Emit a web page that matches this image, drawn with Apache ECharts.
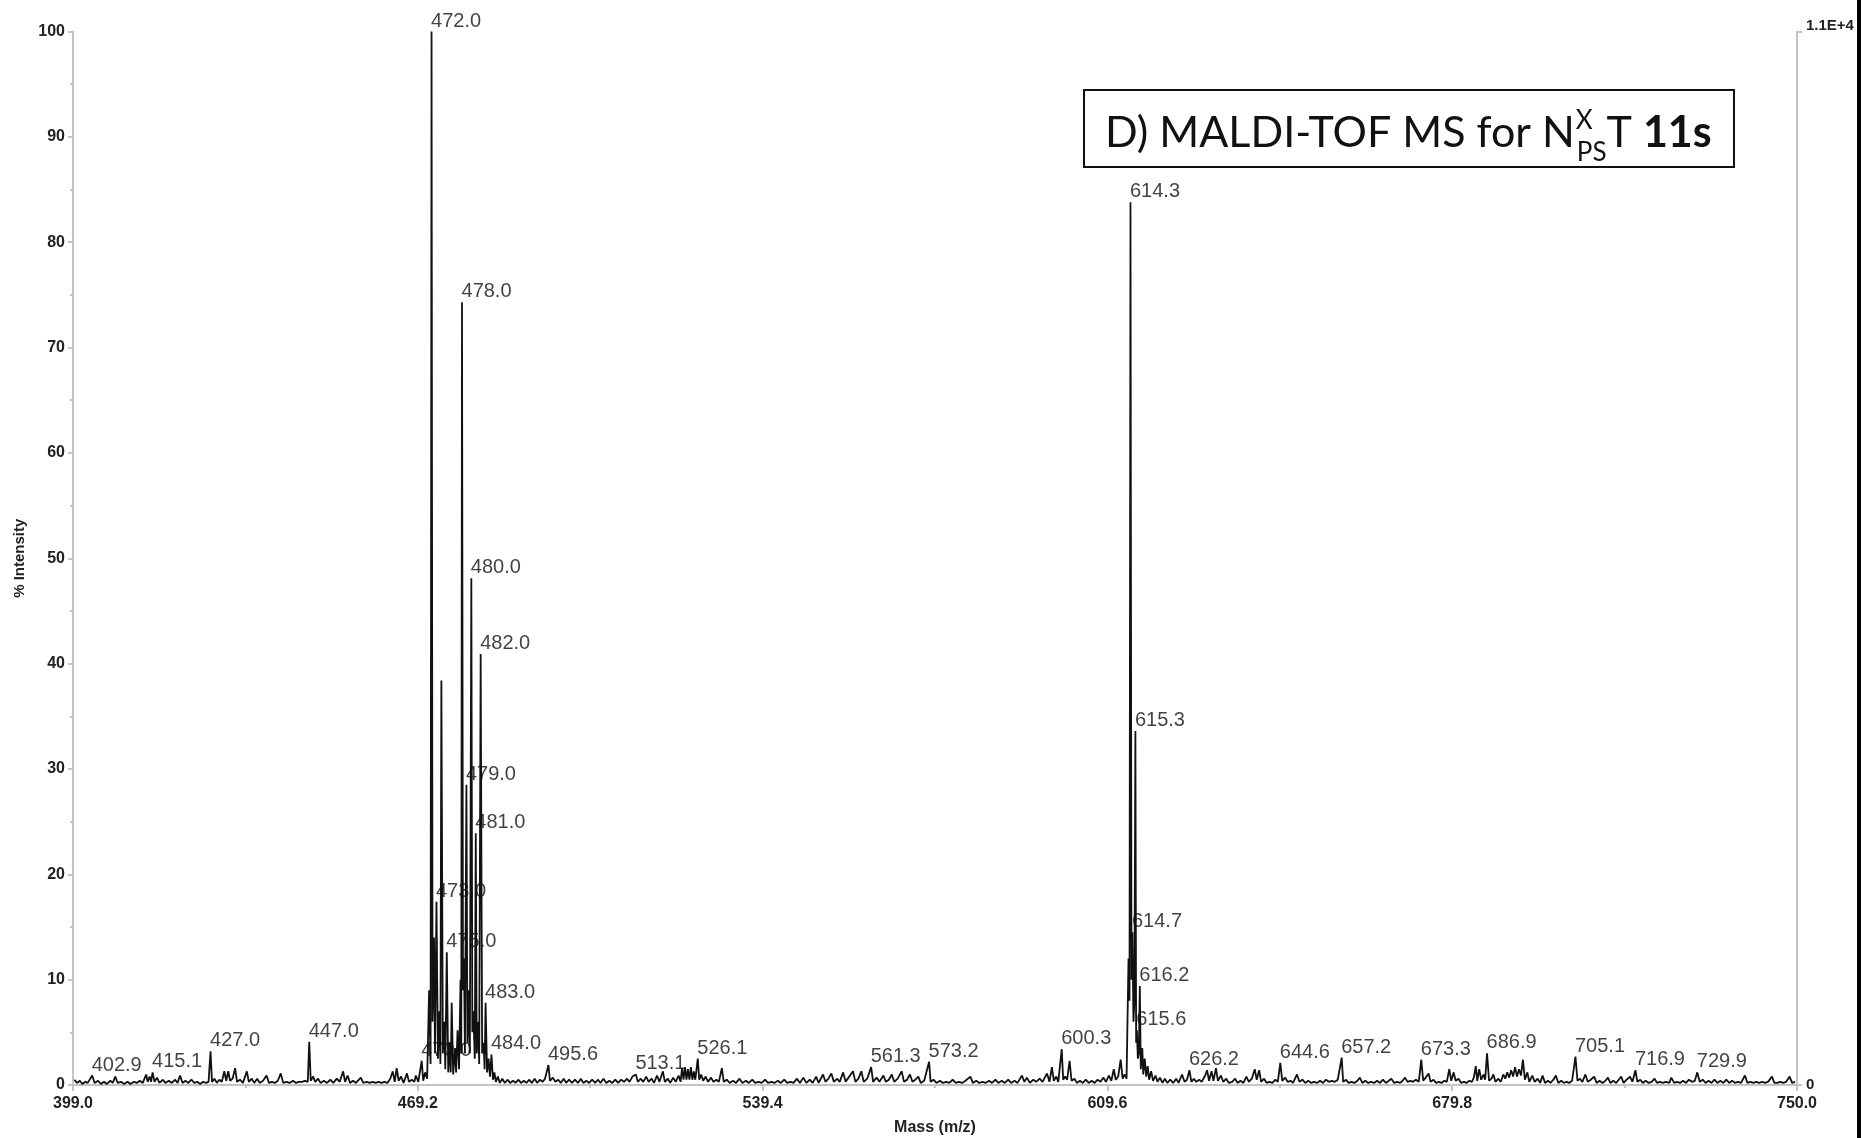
<!DOCTYPE html>
<html lang="en">
<head>
    <meta charset="UTF-8">
    <title>MALDI-TOF MS</title>
    <style>
        html, body { margin: 0; padding: 0; background: #fff; }
        #chart { width: 1861px; height: 1138px; }
    </style>
</head>
<body>
<div id="chart"></div>
<script src="https://cdn.jsdelivr.net/npm/echarts@6/dist/echarts.min.js"></script>
<script>
    // spectrum trace, [mass, % intensity]
    var traceLow = [
        [399.3,0.5],[399.8,0.2],[400.4,0.4],[400.9,0.1],[401.5,0.3],[402.0,0.2],[402.9,0.9],[403.4,0.2],
        [404.1,0.4],[404.7,0.1],[405.3,0.3],[405.9,0.1],[406.6,0.4],[407.1,0.2],[407.6,0.8],[408.1,0.2],
        [408.8,0.3],[409.4,0.1],[410.1,0.3],[410.7,0.1],[411.4,0.3],[412.0,0.2],[412.6,0.4],[413.2,0.2],
        [413.9,1.0],[414.2,0.3],[414.6,0.8],[414.9,0.3],[415.2,1.2],[415.6,0.3],[416.1,0.7],[416.6,0.2],
        [417.3,0.5],[417.8,0.2],[418.5,0.4],[419.1,0.2],[419.8,0.5],[420.3,0.2],[420.8,0.9],[421.3,0.2],
        [421.9,0.4],[422.5,0.2],[423.1,0.5],[423.7,0.2],[424.3,0.3],[424.9,0.1],[425.5,0.3],[426.1,0.2],
        [426.6,0.3],[427.0,3.2],[427.3,0.3],[427.8,0.6],[428.3,0.2],[428.8,0.5],[429.3,0.3],[429.8,1.3],
        [430.2,0.4],[430.6,1.3],[431.0,0.4],[431.5,0.6],[432.0,1.6],[432.4,0.3],[433.0,0.5],[433.6,0.2],
        [434.4,1.3],[434.8,0.3],[435.4,0.6],[435.9,0.2],[436.5,0.6],[437.0,0.2],[437.7,0.4],[438.4,0.9],
        [438.9,0.2],[439.5,0.3],[440.1,0.2],[440.7,0.4],[441.3,1.1],[441.8,0.2],[442.5,0.3],[443.1,0.2],
        [443.8,0.4],[444.4,0.2],[445.0,0.3],[445.6,0.3],[446.2,0.4],[446.8,0.3],[447.1,4.1],[447.4,0.4],
        [447.9,0.8],[448.3,0.3],[448.9,0.6],[449.4,0.2],[450.1,0.4],[450.7,0.2],[451.4,0.5],[452.0,0.2],
        [452.7,0.6],[453.3,0.3],[454.0,1.3],[454.4,0.3],[454.9,0.9],[455.4,0.2],[456.0,0.4],[456.6,0.2],
        [457.2,0.5],[457.6,0.7],[458.1,0.2],[458.8,0.3],[459.4,0.2],[460.0,0.3],[460.6,0.2],[461.2,0.3],
        [461.8,0.2],[462.4,0.3],[463.0,0.2],[463.6,0.6],[464.1,1.3],[464.5,0.3],[464.9,1.6],[465.3,0.4],
        [465.8,0.8],[466.3,0.2],[467.0,1.1],[467.4,0.3],[468.0,0.5],[468.5,0.3],[468.8,0.9],[469.3,0.3]
    ];
    var cluster472 = [
        [470.0,2.3],[470.3,0.4],[470.7,1.2],[471.1,0.6],[471.5,9.0],[471.8,2.0],[472.0,100],[472.2,6],
        [472.5,14],[472.7,3],[473.0,17.4],[473.3,2.5],[473.6,7],[473.8,2],[474.0,38.4],[474.3,3],
        [474.6,6],[474.8,1.5],[475.1,12.6],[475.4,1.2],[475.7,4],[475.9,1.2],[476.1,7.8],[476.4,1.0],
        [476.8,3.5],[477.0,1.2],[477.3,5.2],[477.6,1.5],[477.9,10],[478.05,3],[478.2,74.3],[478.4,9],
        [478.6,12],[478.8,3],[479.1,28.5],[479.3,4],[479.5,9],[479.8,3],[480.1,48.1],[480.3,5],
        [480.5,7],[480.8,2.5],[481.0,23.9],[481.2,3],[481.5,6],[481.7,2],[482.0,40.9],[482.3,3],
        [482.6,4],[482.8,1.5],[483.0,7.8],[483.3,1.2],[483.6,2.5],[483.9,0.8],[484.2,2.9]
    ];
    var traceMid = [
        [484.5,0.5],[484.8,1.2],[485.1,0.3],[485.5,0.8],[485.9,0.2],[486.4,0.6],[486.9,0.2],[487.5,0.5],
        [488.0,0.2],[488.6,0.4],[489.1,0.2],[489.7,0.5],[490.2,0.2],[490.8,0.4],[491.3,0.2],[491.9,0.5],
        [492.4,0.2],[493.0,0.6],[493.5,0.2],[494.1,0.5],[494.6,0.3],[495.1,0.6],[495.8,1.9],[496.1,0.4],
        [496.7,0.7],[497.2,0.3],[497.8,0.5],[498.3,0.2],[498.9,0.6],[499.4,0.2],[500.0,0.5],[500.6,0.2],
        [501.2,0.5],[501.8,0.2],[502.4,0.6],[502.9,0.2],[503.5,0.4],[504.1,0.2],[504.7,0.5],[505.3,0.2],
        [505.9,0.5],[506.4,0.2],[507.0,0.6],[507.6,0.2],[508.2,0.4],[508.8,0.2],[509.4,0.5],[510.0,0.2],
        [510.6,0.5],[511.2,0.3],[511.8,0.6],[512.3,0.3],[512.9,0.8],[513.6,1.0],[514.0,0.3],[514.6,0.6],
        [515.1,0.3],[515.7,0.8],[516.2,0.3],[516.8,0.6],[517.3,0.2],[517.9,0.9],[518.4,0.3],[519.1,1.3],
        [519.5,0.3],[520.1,0.6],[520.6,0.2],[521.2,0.7],[521.7,0.3],[522.3,0.9],[522.7,0.3],[523.0,1.6],
        [523.3,0.5],[523.6,1.7],[523.9,0.5],[524.2,1.5],[524.5,0.5],[524.8,1.7],[525.1,0.5],[525.4,1.3],
        [525.7,0.5],[526.2,2.5],[526.5,0.5],[526.9,1.0],[527.3,0.4],[527.8,0.8],[528.3,0.3],[528.9,0.7],
        [529.4,0.3],[530.0,0.5],[530.5,0.3],[531.1,1.6],[531.5,0.3],[532.1,0.5],[532.7,0.2],[533.4,0.4],
        [534.0,0.2],[534.7,0.6],[535.3,0.2],[536.0,0.4],[536.6,0.2],[537.3,0.5],[537.9,0.2],[538.6,0.3],
        [539.2,0.2],[539.9,0.5],[540.5,0.2],[541.2,0.3],[541.8,0.2],[542.5,0.4],[543.1,0.2],[543.8,0.5],
        [544.4,0.2],[545.1,0.3],[545.7,0.2],[546.4,0.6],[547.0,0.2],[547.7,0.7],[548.3,0.2],[549.0,0.5],
        [549.6,0.2],[550.3,0.8],[550.8,0.2],[551.7,1.0],[552.2,0.3],[552.8,0.6],[553.4,1.1],[553.9,0.3],
        [554.6,0.6],[555.1,0.3],[555.8,1.2],[556.3,0.3],[556.9,0.7],[557.8,1.3],[558.3,0.3],[558.9,0.6],
        [559.5,1.3],[560.0,0.3],[560.7,0.6],[561.5,1.7],[561.9,0.3],[562.6,0.7],[563.2,0.3],[564.0,0.9],
        [564.5,0.3],[565.1,0.5],[565.7,1.0],[566.2,0.3],[566.9,0.6],[567.7,1.3],[568.2,0.3],[568.8,0.5],
        [569.4,1.0],[569.9,0.3],[570.5,0.5],[571.1,0.8],[571.6,0.2],[572.3,0.4],[573.3,2.2],[573.6,0.3],
        [574.2,0.5],[574.8,0.2],[575.5,0.4],[576.1,0.2],[576.8,0.3],[577.4,0.2],[578.1,0.5],[578.7,0.2],
        [579.4,0.3],[580.0,0.2],[580.7,0.4],[581.7,0.8],[582.2,0.2],[582.9,0.4],[583.5,0.2],[584.2,0.3],
        [584.8,0.2],[585.5,0.4],[586.1,0.2],[586.8,0.5],[587.4,0.2],[588.1,0.4],[588.7,0.2],[589.4,0.5],
        [590.0,0.2],[590.7,0.4],[591.3,0.2],[592.2,0.9],[592.7,0.3],[593.2,0.7],[593.8,0.2],[594.5,0.5],
        [595.1,0.3],[595.8,0.6],[596.4,0.3],[597.3,1.1],[597.8,0.3],[598.3,1.7],[598.7,0.4],[599.2,0.8],
        [599.6,0.3],[600.3,3.4],[600.6,0.5],[601.0,0.8],[601.4,0.5],[601.9,2.3],[602.3,0.4],[602.9,0.6],
        [603.4,0.2],[604.0,0.4],[604.6,0.2],[605.2,0.5],[605.8,0.2],[606.4,0.4],[607.0,0.2],[607.6,0.5],
        [608.2,0.3],[608.8,0.7],[609.3,0.3],[609.9,0.9],[610.4,0.4],[610.9,1.5],[611.3,0.5],[611.8,0.8],
        [612.3,2.4],[612.7,0.6],[613.1,1.0],[613.5,0.6]
    ];
    var cluster614 = [
        [613.9,12],[614.1,8],[614.3,83.8],[614.5,10],[614.7,14.5],[614.9,6],[615.1,8],[615.3,33.6],
        [615.45,4],[615.6,5.2],[615.8,2.5],[616.0,3],[616.2,9.4],[616.4,1.5],[616.7,3.5],[616.9,1.0],
        [617.2,2.5],[617.5,0.8],[617.8,1.8]
    ];
    var traceHigh = [
        [618.1,0.5],[618.5,1.3],[618.9,0.4],[619.4,0.9],[619.8,0.3],[620.3,0.7],[620.8,0.2],[621.3,0.6],
        [621.8,0.2],[622.4,0.5],[623.0,0.2],[623.6,0.6],[624.1,0.2],[624.8,1.0],[625.3,0.3],[625.8,0.5],
        [626.3,1.4],[626.7,0.3],[627.2,0.6],[627.7,0.3],[628.3,0.5],[628.8,0.3],[629.5,0.9],[629.9,1.4],
        [630.3,0.4],[630.8,1.3],[631.2,0.4],[631.7,1.6],[632.1,0.4],[632.7,0.9],[633.2,0.3],[633.8,0.6],
        [634.3,0.2],[635.0,0.3],[635.6,0.6],[636.1,0.2],[636.7,0.4],[637.3,0.2],[637.9,0.8],[638.4,0.3],
        [639.0,0.6],[639.6,1.5],[640.0,0.5],[640.5,1.4],[640.9,0.3],[641.5,0.6],[642.0,0.2],[642.6,0.3],
        [643.2,0.2],[643.8,0.5],[644.3,0.3],[644.8,2.1],[645.2,0.4],[645.8,0.7],[646.3,0.3],[646.9,0.4],
        [647.4,0.2],[648.2,1.0],[648.7,0.3],[649.3,0.5],[649.9,0.2],[650.5,0.4],[651.1,0.2],[651.7,0.3],
        [652.3,0.2],[652.9,0.4],[653.5,0.2],[654.1,0.5],[654.7,0.3],[655.3,0.4],[655.9,0.3],[656.5,0.5],
        [657.3,2.6],[657.6,0.3],[658.2,0.5],[658.7,0.2],[659.3,0.3],[659.9,0.2],[660.5,0.4],[661.0,0.7],
        [661.5,0.2],[662.1,0.4],[662.7,0.2],[663.3,0.3],[663.9,0.2],[664.5,0.4],[665.1,0.2],[665.7,0.5],
        [666.3,0.2],[666.9,0.4],[667.4,0.6],[668.0,0.2],[668.6,0.3],[669.2,0.2],[669.7,0.4],[670.2,0.7],
        [670.7,0.3],[671.3,0.4],[671.8,0.3],[672.4,0.5],[673.0,0.3],[673.5,2.4],[673.9,0.4],[674.4,0.7],
        [675.0,1.1],[675.4,0.3],[676.0,0.5],[676.5,0.2],[677.1,0.3],[677.6,0.2],[678.2,0.4],[678.7,0.3],
        [679.2,1.5],[679.6,0.4],[680.1,1.2],[680.5,0.4],[681.1,0.6],[681.6,0.2],[682.2,0.3],[682.7,0.2],
        [683.3,0.4],[683.8,0.3],[684.2,0.7],[684.6,1.8],[684.9,0.4],[685.3,1.5],[685.7,0.5],[686.2,1.0],
        [686.5,0.5],[686.9,3.0],[687.3,0.4],[687.8,0.6],[688.2,1.0],[688.6,0.3],[689.2,0.6],[689.7,0.3],
        [690.2,1.0],[690.6,0.6],[691.0,1.2],[691.4,0.7],[691.8,1.4],[692.2,0.8],[692.6,1.7],[693.0,0.8],
        [693.4,1.5],[693.8,0.9],[694.2,2.4],[694.6,0.5],[695.1,1.2],[695.5,0.3],[696.1,0.9],[696.6,0.3],
        [697.2,0.6],[697.7,0.2],[698.2,0.9],[698.7,0.2],[699.3,0.4],[699.8,0.2],[700.4,0.5],[700.9,0.9],
        [701.4,0.2],[702.0,0.4],[702.5,0.2],[703.1,0.3],[703.6,0.2],[704.2,0.4],[704.9,2.7],[705.3,0.4],
        [705.8,0.6],[706.3,0.3],[706.9,1.0],[707.4,0.3],[708.0,0.5],[708.7,0.8],[709.2,0.2],[709.8,0.4],
        [710.4,0.2],[711.0,0.4],[711.5,0.7],[712.0,0.2],[712.6,0.4],[713.2,0.2],[713.7,0.5],[714.2,0.8],
        [714.7,0.2],[715.3,0.5],[716.0,0.8],[716.5,0.3],[717.1,1.4],[717.5,0.3],[718.1,0.5],[718.6,0.2],
        [719.2,0.4],[719.8,0.2],[720.4,0.3],[721.0,0.6],[721.5,0.2],[722.1,0.3],[722.7,0.2],[723.3,0.3],
        [724.0,0.2],[724.4,0.7],[725.0,0.2],[725.6,0.3],[726.2,0.2],[726.8,0.4],[727.4,0.2],[728.0,0.5],
        [728.6,0.3],[729.2,0.4],[729.7,1.2],[730.2,0.3],[730.8,0.5],[731.4,0.2],[732.0,0.4],[732.6,0.2],
        [733.2,0.5],[733.8,0.2],[734.4,0.4],[735.0,0.2],[735.6,0.5],[736.2,0.2],[736.8,0.4],[737.4,0.2],
        [738.0,0.3],[738.6,0.2],[739.4,0.9],[739.9,0.2],[740.5,0.3],[741.1,0.2],[741.7,0.3],[742.3,0.2],
        [742.9,0.3],[743.5,0.2],[744.1,0.3],[744.9,0.8],[745.4,0.2],[746.0,0.2],[746.6,0.3],[747.2,0.2],
        [747.8,0.3],[748.5,0.8],[749.0,0.2],[749.6,0.3]
    ];

    // peak annotations
    var peakLabels = ['402.9','415.1','427.0','447.0','470.0','472.0','473.0','475.0','478.0','479.0',
                      '480.0','481.0','482.0','483.0','484.0','495.6','513.1','526.1','561.3','573.2',
                      '600.3','614.3','614.7','615.3','615.6','616.2','626.2','644.6','657.2','673.3',
                      '686.9','705.1','716.9','729.9'];
    var labelMz = [402.9,415.2,427.0,447.1,470.0,472.0,473.0,475.1,478.2,479.1,
                   480.1,481.0,482.0,483.0,484.2,495.8,513.6,526.2,561.5,573.3,
                   600.3,614.3,614.7,615.3,615.6,616.2,626.3,644.8,657.3,673.5,
                   686.9,704.9,717.1,729.7];
    var labelPct = [0.9,1.2,3.2,4.1,2.3,100,17.4,12.6,74.3,28.5,
                    48.1,23.9,40.9,7.8,2.9,1.9,1.0,2.5,1.7,2.2,
                    3.4,83.8,14.5,33.6,5.2,9.4,1.4,2.1,2.6,2.4,
                    3.0,2.7,1.4,1.2];

    var xTicks = [399.0, 469.2, 539.4, 609.6, 679.8, 750.0];
    var xMinorTicks = [434.1, 504.3, 574.5, 644.7, 714.9];

    var axisGray = '#c4c4c4';
    var tickFont = "'Liberation Sans', Arial, sans-serif";

    var spectrum = traceLow.concat(cluster472, traceMid, cluster614, traceHigh);
    var labelData = labelMz.map(function (m, i) { return [m, labelPct[i], peakLabels[i]]; });

    // title box text pieces, measured so they line up
    var ctx = document.createElement('canvas').getContext('2d');
    function textW(str, font) { ctx.font = font; return ctx.measureText(str).width; }
    var titleFam = "Lato, 'Open Sans', sans-serif";
    var mainText = 'D) MALDI-TOF MS for N';
    function titleWidth(size) {
        var sub = Math.round(size * 0.6);
        return textW(mainText, size + 'px ' + titleFam) + 2 +
            Math.max(textW('X', sub + 'px ' + titleFam), textW('PS', sub + 'px ' + titleFam)) +
            textW('T ', size + 'px ' + titleFam) + textW('11s', 'bold ' + size + 'px ' + titleFam);
    }
    var fs = Math.round(100 * 608 / titleWidth(100));
    var subFs = Math.round(fs * 0.6);
    var x0 = 1105;
    var xN = x0 + textW(mainText, fs + 'px ' + titleFam);
    var xT = xN + 2 + Math.max(textW('X', subFs + 'px ' + titleFam), textW('PS', subFs + 'px ' + titleFam));
    var xB = xT + textW('T ', fs + 'px ' + titleFam);

    var myChart = echarts.init(document.getElementById('chart'));
    var option = {
        animation: false,
        backgroundColor: '#fff',
        grid: {left: 73, right: 64, top: 31.5, bottom: 53, containLabel: false, outerBoundsMode: 'none'},
        xAxis: [{
            type: 'value', min: 399, max: 750,
            name: 'Mass (m/z)', nameLocation: 'middle', nameGap: 35,
            nameTextStyle: {fontFamily: tickFont, fontWeight: 'bold', fontSize: 16, color: '#222'},
            axisLine: {show: true, lineStyle: {color: axisGray, width: 2}},
            axisTick: {show: true, length: 6, customValues: xTicks, lineStyle: {color: axisGray, width: 2}},
            axisLabel: {customValues: xTicks, margin: 11, fontFamily: tickFont, fontWeight: 'bold', fontSize: 16,
                color: '#222', formatter: function (v) { return v.toFixed(1); }},
            splitLine: {show: false}
        }, {
            type: 'value', min: 399, max: 750, position: 'bottom',
            axisLine: {show: false},
            axisTick: {show: true, length: 3, customValues: xMinorTicks, lineStyle: {color: axisGray, width: 2}},
            axisLabel: {show: false},
            splitLine: {show: false}
        }],
        yAxis: [{
            type: 'value', min: 0, max: 100, interval: 10,
            name: '% Intensity', nameLocation: 'middle', nameGap: 45, nameRotate: 90,
            nameTextStyle: {fontFamily: tickFont, fontWeight: 'bold', fontSize: 15, color: '#222'},
            axisLine: {show: true, lineStyle: {color: axisGray, width: 2}},
            axisTick: {show: true, length: 5, lineStyle: {color: axisGray, width: 2}},
            minorTick: {show: true, splitNumber: 2, length: 3, lineStyle: {color: axisGray, width: 2}},
            axisLabel: {margin: 8, fontFamily: tickFont, fontWeight: 'bold', fontSize: 16, color: '#222'},
            splitLine: {show: false}
        }, {
            type: 'value', min: 0, max: 100, position: 'right',
            axisLine: {show: true, lineStyle: {color: axisGray, width: 2}},
            axisTick: {show: true, length: 5, customValues: [0, 100], lineStyle: {color: axisGray, width: 2}},
            axisLabel: {customValues: [0, 100], margin: 9, fontFamily: tickFont, fontWeight: 'bold', fontSize: 15,
                color: '#222',
                formatter: function (v) { return v === 100 ? '{top|1.1E+4}' : '0'; },
                rich: {top: {fontFamily: tickFont, fontWeight: 'bold', fontSize: 15, color: '#222', padding: [0, 0, 12, 0]}}},
            splitLine: {show: false}
        }],
        series: [{
            type: 'line',
            data: spectrum,
            symbol: 'none',
            lineStyle: {color: '#111', width: 1.8},
            z: 2
        }, {
            type: 'scatter',
            data: labelData,
            symbolSize: 1,
            itemStyle: {color: 'rgba(0,0,0,0)'},
            zlevel: 1,
            label: {
                show: true,
                position: [0, 0],
                align: 'left',
                verticalAlign: 'bottom',
                fontFamily: tickFont,
                fontSize: 20,
                color: '#111',
                formatter: function (p) { return p.data[2]; }
            },
            z: 3
        }],
        graphic: [{
            type: 'rect',
            shape: {x: 1084, y: 90, width: 650, height: 77},
            style: {fill: '#fff', stroke: '#111', lineWidth: 2},
            z: 10
        }, {
            type: 'text', x: x0, y: 133,
            style: {text: mainText, font: fs + 'px ' + titleFam, fill: '#111', verticalAlign: 'middle'},
            z: 11
        }, {
            type: 'text', x: xN + 1, y: 121,
            style: {text: 'X', font: subFs + 'px ' + titleFam, fill: '#111', verticalAlign: 'middle'},
            z: 11
        }, {
            type: 'text', x: xN + 2, y: 153,
            style: {text: 'PS', font: subFs + 'px ' + titleFam, fill: '#111', verticalAlign: 'middle'},
            z: 11
        }, {
            type: 'text', x: xT, y: 133,
            style: {text: 'T', font: fs + 'px ' + titleFam, fill: '#111', verticalAlign: 'middle'},
            z: 11
        }, {
            type: 'text', x: xB, y: 133,
            style: {text: '11s', font: 'bold ' + fs + 'px ' + titleFam, fill: '#111', verticalAlign: 'middle'},
            z: 11
        }, {
            type: 'rect',
            shape: {x: 1857, y: 0, width: 4, height: 1138},
            style: {fill: '#000'},
            z: 20
        }]
    };
    myChart.setOption(option);
</script>
</body>
</html>
